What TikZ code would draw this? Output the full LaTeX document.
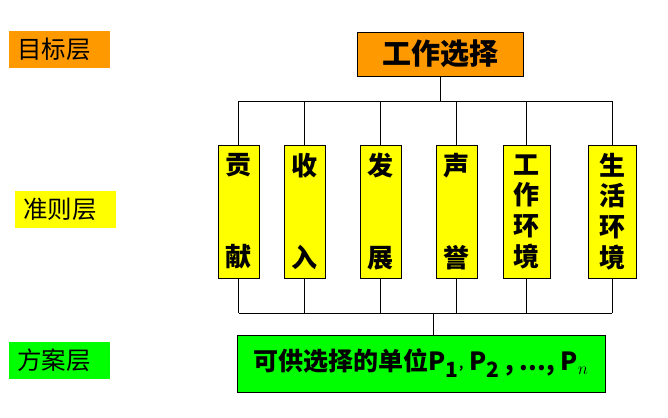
\documentclass[tikz,border=0pt]{standalone}
\usepackage{fontspec}
\newfontfamily\cjk{Noto Sans CJK SC}
\definecolor{goalorange}{HTML}{FF9900}
\definecolor{crityellow}{HTML}{FFFF00}
\definecolor{altgreen}{HTML}{00FF00}
\begin{document}
\begin{tikzpicture}[x=1pt,y=-1pt,
  box/.style={draw=black,line width=0.9pt,inner sep=0pt,align=center},
  goalbox/.style={box,fill=goalorange,minimum width=166pt,minimum height=44pt,font=\cjk\bfseries\fontsize{29}{29}\selectfont},
  critbox/.style={box,fill=crityellow,minimum height=133pt,font=\cjk\bfseries\fontsize{26}{26}\selectfont},
  altbox/.style={box,fill=altgreen,minimum width=368pt,minimum height=57pt,font=\cjk\bfseries\fontsize{25}{25}\selectfont},
  lvl/.style={inner ysep=0pt,inner xsep=8pt,text width=85pt,align=left,minimum height=37pt,font=\cjk\fontsize{24.5}{24.5}\selectfont},
  conn/.style={line width=0.9pt,draw=black}]
\useasboundingbox (0,0) rectangle (668,417);
% level labels
\node[lvl,fill=goalorange] (l1) at (59.5,49.5) {目标层};
\node[lvl,fill=crityellow] (l2) at (65.5,209) {准则层};
\node[lvl,fill=altgreen] (l3) at (59.5,360.5) {方案层};
% goal
\node[goalbox] (goal) at (440,54) {工作选择};
% criteria
\node[critbox,minimum width=41pt] (c1) at (238.5,211.5) {贡\\[66pt]献};
\node[critbox,minimum width=41pt] (c2) at (304.5,211.5) {收\\[66pt]入};
\node[critbox,minimum width=41pt] (c3) at (380.5,211.5) {发\\[66pt]展};
\node[critbox,minimum width=41pt] (c4) at (456.5,211.5) {声\\[66pt]誉};
\node[critbox,minimum width=47pt] (c5) at (526.5,211.5) {工\\[4.7pt]作\\[4.7pt]环\\[4.7pt]境};
\node[critbox,minimum width=48pt] (c6) at (612,211.5) {生\\[4.7pt]活\\[4.7pt]环\\[4.7pt]境};
% alternatives
\node[altbox] (alt) at (421,363.5) {可供选择的单位P\textsubscript{\fontsize{21}{21}\selectfont 1}\raisebox{2pt}{\fontsize{12}{12}\selectfont ,} P\textsubscript{\fontsize{21}{21}\selectfont 2} , ..., P\textsubscript{\fontsize{19}{19}\selectfont$n$}};
% connectors
\coordinate (tb) at (440,101);
\coordinate (bb) at (433,313);
\draw[conn] (goal.south) -- (tb);
\draw[conn] (c1.north |- tb) -- (c6.north |- tb);
\draw[conn] (c1.south |- bb) -- (c6.south |- bb);
\foreach \c in {c1,c2,c3,c4,c5,c6}{
  \draw[conn] (\c.north) -- (\c.north |- tb);
  \draw[conn] (\c.south) -- (\c.south |- bb);
}
\draw[conn] (bb) -- (bb |- alt.north);
\end{tikzpicture}
\end{document}
